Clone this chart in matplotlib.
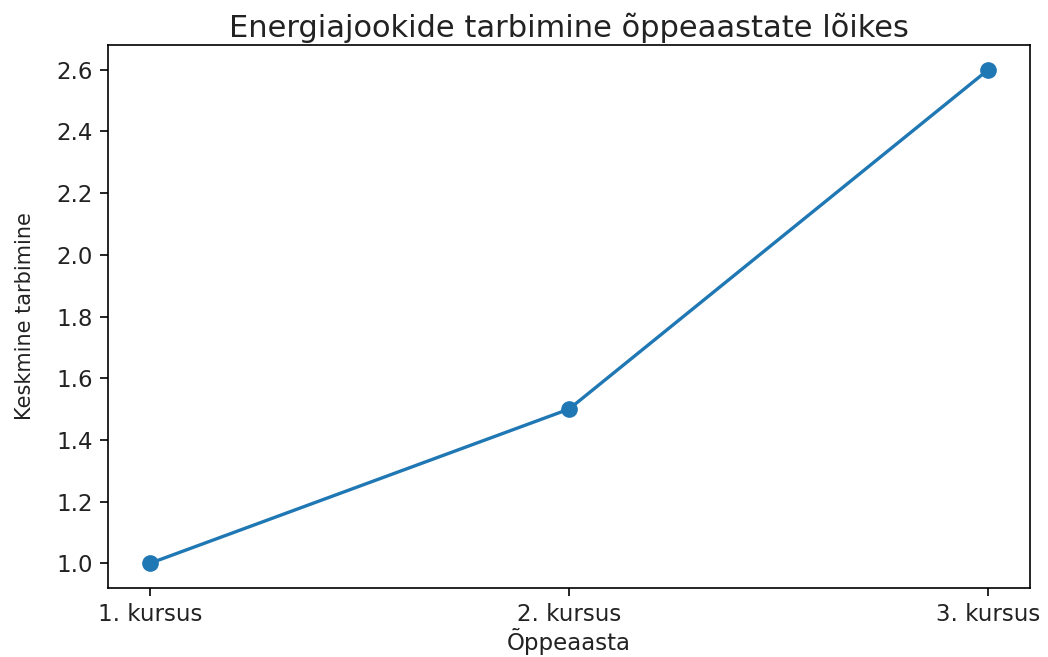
import matplotlib
matplotlib.use("Agg")
import matplotlib.pyplot as plt

kursused = ["1. kursus", "2. kursus", "3. kursus"]
tarbimine = [1.0, 1.5, 2.6]

fig = plt.figure(figsize=(10.48, 6.57), dpi=100)
ax = fig.add_axes([0.103, 0.105, 0.880, 0.8265])

ax.plot(kursused, tarbimine, marker="o", color="#1f77b4", linewidth=2.4, markersize=11)

ax.set_title("Energiajookide tarbimine õppeaastate lõikes", fontsize=22, pad=6, color="#222222")
ax.set_xlabel("Õppeaasta", fontsize=16.5, labelpad=1, color="#222222")
ax.set_ylabel("Keskmine tarbimine", fontsize=15, labelpad=15, color="#222222",
              family=["Liberation Sans Narrow", "DejaVu Sans"])
ax.set_yticks([1.0, 1.2, 1.4, 1.6, 1.8, 2.0, 2.2, 2.4, 2.6])
ax.tick_params(labelsize=16.5, length=6, width=1.2, labelcolor="#222222", pad=5)
for s in ax.spines.values():
    s.set_linewidth(1.2)

fig.savefig("out.png", dpi=100)
